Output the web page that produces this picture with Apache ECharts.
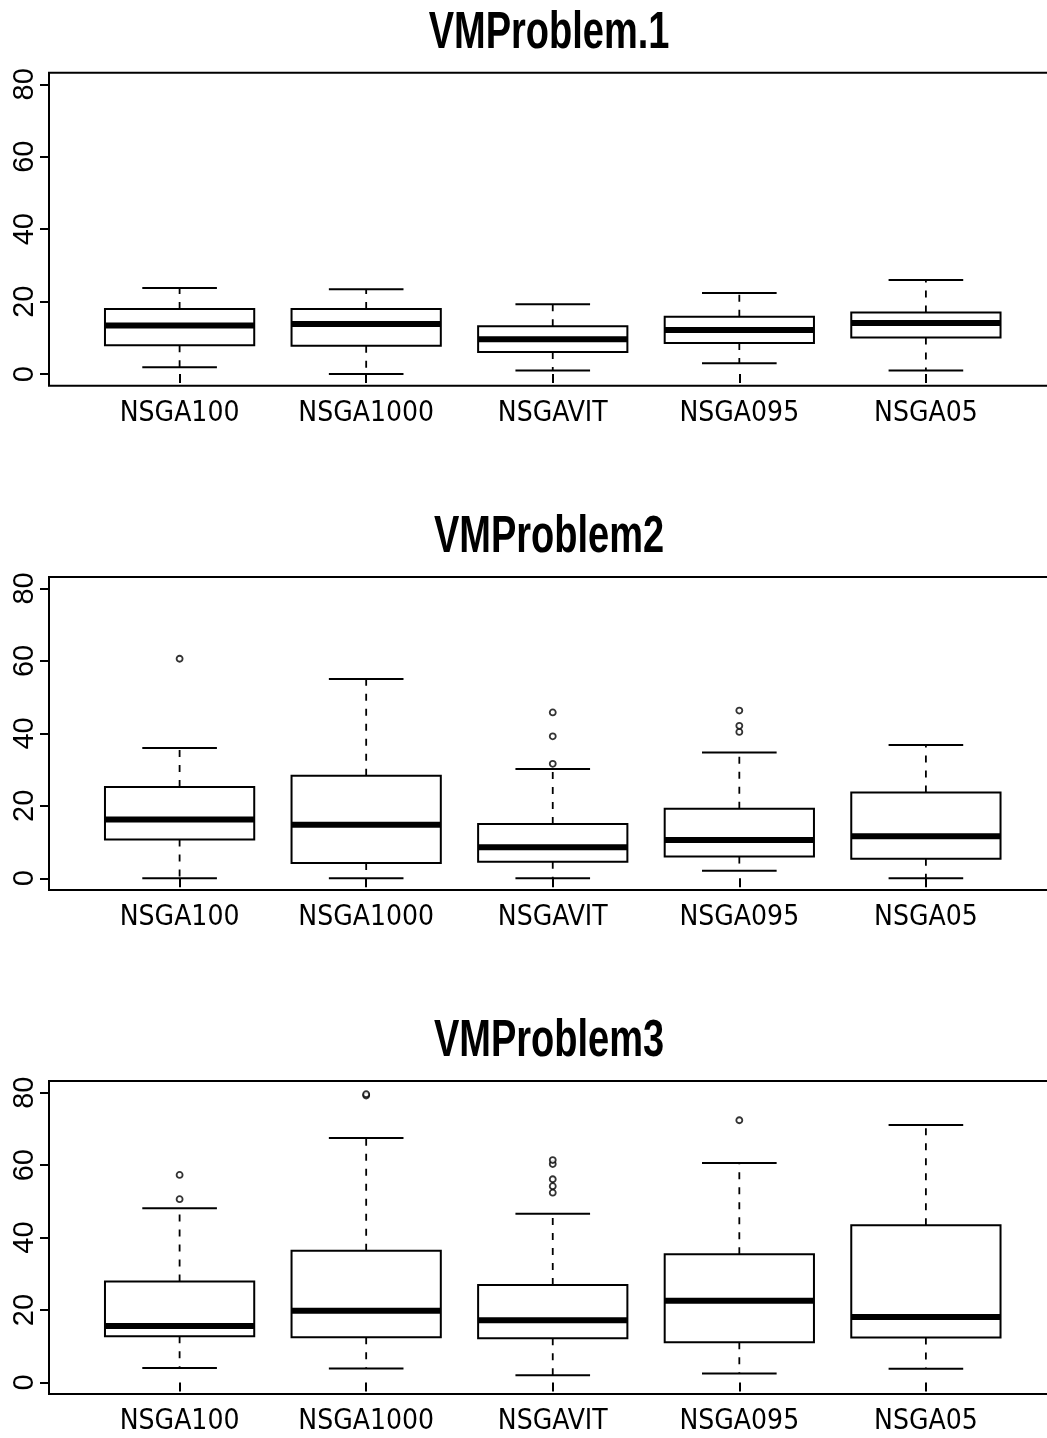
<!DOCTYPE html>
<html>
<head>
<meta charset="utf-8">
<style>
  html, body { margin: 0; padding: 0; background: #fff; overflow: hidden; }
  /* the plot frames run past the right edge of the page, so the canvas is a bit wider than the window */
  #chart { width: 1070px; height: 1438px; }
</style>
<script src="https://cdn.jsdelivr.net/npm/echarts@6/dist/echarts.min.js"></script>
</head>
<body>
<div id="chart"></div>
<script>
// Algorithm variants along the x axis
const categories = ['NSGA100', 'NSGA1000', 'NSGAVIT', 'NSGA095', 'NSGA05'];
const titles = ['VMProblem.1', 'VMProblem2', 'VMProblem3'];
const yTicks = [0, 20, 40, 60, 80];

// Box statistics per variant: [lower whisker, Q1, median, Q3, upper whisker]
const statsP1 = [
  [1.9, 8.0, 13.4, 18.0, 23.8],
  [0.0, 7.8, 13.8, 18.0, 23.4],
  [1.0, 6.1, 9.6, 13.2, 19.3],
  [3.0, 8.6, 12.2, 15.8, 22.4],
  [1.0, 10.1, 14.1, 17.0, 26.0]
];
const statsP2 = [
  [0.0, 10.7, 16.2, 25.2, 36.0],
  [0.0, 4.2, 14.8, 28.3, 55.0],
  [0.0, 4.6, 8.6, 15.0, 30.2],
  [2.1, 6.0, 10.6, 19.2, 34.7],
  [0.0, 5.4, 11.6, 23.7, 36.8]
];
const statsP3 = [
  [4.0, 12.8, 15.6, 27.9, 48.1],
  [3.9, 12.5, 19.8, 36.4, 67.5],
  [2.0, 12.2, 17.2, 26.9, 46.6],
  [2.5, 11.1, 22.6, 35.4, 60.6],
  [3.8, 12.4, 18.1, 43.4, 71.1]
];

// Outlying points per variant
const outliersP1 = [[], [], [], [], []];
const outliersP2 = [[60.6], [], [31.6, 39.2, 45.8], [40.4, 42.1, 46.3], []];
const outliersP3 = [[50.6, 57.3], [79.2, 79.6], [52.4, 54.2, 56.1, 60.3, 61.4], [72.4], []];

const panels = [
  { title: titles[0], stats: statsP1, outliers: outliersP1 },
  { title: titles[1], stats: statsP2, outliers: outliersP2 },
  { title: titles[2], stats: statsP3, outliers: outliersP3 }
];

const xPositions = categories.map((c, i) => i + 1);

const PANEL_TOP = 72.7;
const PANEL_STEP = 504.2;
const PANEL_H = 313;
const BOX_HALF = 0.4;
const STAPLE_HALF = 0.2;
const CONDENSED = "'Liberation Sans Narrow', 'Arial Narrow', 'DejaVu Sans Condensed', sans-serif";

function renderBox(params, api) {
  const x = api.value(0);
  const lo = api.coord([x, api.value(1)]);
  const q1 = api.coord([x, api.value(2)]);
  const md = api.coord([x, api.value(3)]);
  const q3 = api.coord([x, api.value(4)]);
  const hi = api.coord([x, api.value(5)]);
  const half = api.size([BOX_HALF, 0])[0];
  const sHalf = api.size([STAPLE_HALF, 0])[0];
  const cx = lo[0];
  const black = '#000';
  return {
    type: 'group',
    children: [
      { type: 'line', shape: { x1: cx, y1: q1[1], x2: cx, y2: lo[1] },
        style: { stroke: black, lineWidth: 1.8, lineDash: [7, 8] } },
      { type: 'line', shape: { x1: cx, y1: q3[1], x2: cx, y2: hi[1] },
        style: { stroke: black, lineWidth: 1.8, lineDash: [7, 8] } },
      { type: 'line', shape: { x1: cx - sHalf, y1: lo[1], x2: cx + sHalf, y2: lo[1] },
        style: { stroke: black, lineWidth: 2 } },
      { type: 'line', shape: { x1: cx - sHalf, y1: hi[1], x2: cx + sHalf, y2: hi[1] },
        style: { stroke: black, lineWidth: 2 } },
      { type: 'rect', shape: { x: cx - half, y: q3[1], width: 2 * half, height: q1[1] - q3[1] },
        style: { fill: '#fff', stroke: black, lineWidth: 2 } },
      { type: 'line', shape: { x1: cx - half, y1: md[1], x2: cx + half, y2: md[1] },
        style: { stroke: black, lineWidth: 6 } }
    ]
  };
}

const grid = [], xAxis = [], yAxis = [], series = [], graphic = [];

panels.forEach((p, k) => {
  const top = PANEL_TOP + k * PANEL_STEP;
  grid.push({
    left: 49, top: top, width: 1007.5, height: PANEL_H,
    show: true, borderColor: '#000', borderWidth: 2, backgroundColor: 'transparent'
  });
  // panel heading, set in a compressed bold face
  graphic.push({
    type: 'text', x: 549, y: top - 39, scaleX: 0.745,
    style: {
      text: p.title, fill: '#000',
      font: "bold 51px 'Liberation Sans', Arial, sans-serif",
      textAlign: 'center', textVerticalAlign: 'middle'
    }
  });
  xAxis.push({
    type: 'value', gridIndex: k, min: 0.3, max: 5.7,
    axisLine: { show: false },
    splitLine: { show: false },
    axisTick: { show: true, length: 9, customValues: xPositions,
      lineStyle: { color: '#000', width: 2 } },
    axisLabel: { customValues: xPositions, margin: 14,
      formatter: v => categories[Math.round(v) - 1],
      fontFamily: CONDENSED, fontSize: 28, color: '#000' }
  });
  yAxis.push({
    type: 'value', gridIndex: k, min: -3.2, max: 83.2,
    axisLine: { show: false },
    splitLine: { show: false },
    axisTick: { show: true, length: 9, customValues: yTicks,
      lineStyle: { color: '#000', width: 2 } },
    axisLabel: { customValues: yTicks, rotate: 90, margin: 10,
      fontFamily: "'Liberation Sans', Arial, sans-serif", fontSize: 29, color: '#000' }
  });
  series.push({
    type: 'custom', xAxisIndex: k, yAxisIndex: k,
    renderItem: renderBox,
    encode: { x: 0, y: [1, 2, 3, 4, 5] },
    data: p.stats.map((s, i) => [xPositions[i]].concat(s)),
    z: 2
  });
  const pts = [];
  p.outliers.forEach((vals, i) => vals.forEach(v => pts.push([xPositions[i], v])));
  series.push({
    type: 'scatter', xAxisIndex: k, yAxisIndex: k,
    symbol: 'circle', symbolSize: 6,
    itemStyle: { color: '#fff', borderColor: '#000', borderWidth: 1.8 },
    data: pts, z: 3
  });
});

const chart = echarts.init(document.getElementById('chart'), null, { renderer: 'canvas' });
chart.setOption({
  animation: false,
  backgroundColor: '#fff',
  graphic, grid, xAxis, yAxis, series
});
</script>
</body>
</html>
